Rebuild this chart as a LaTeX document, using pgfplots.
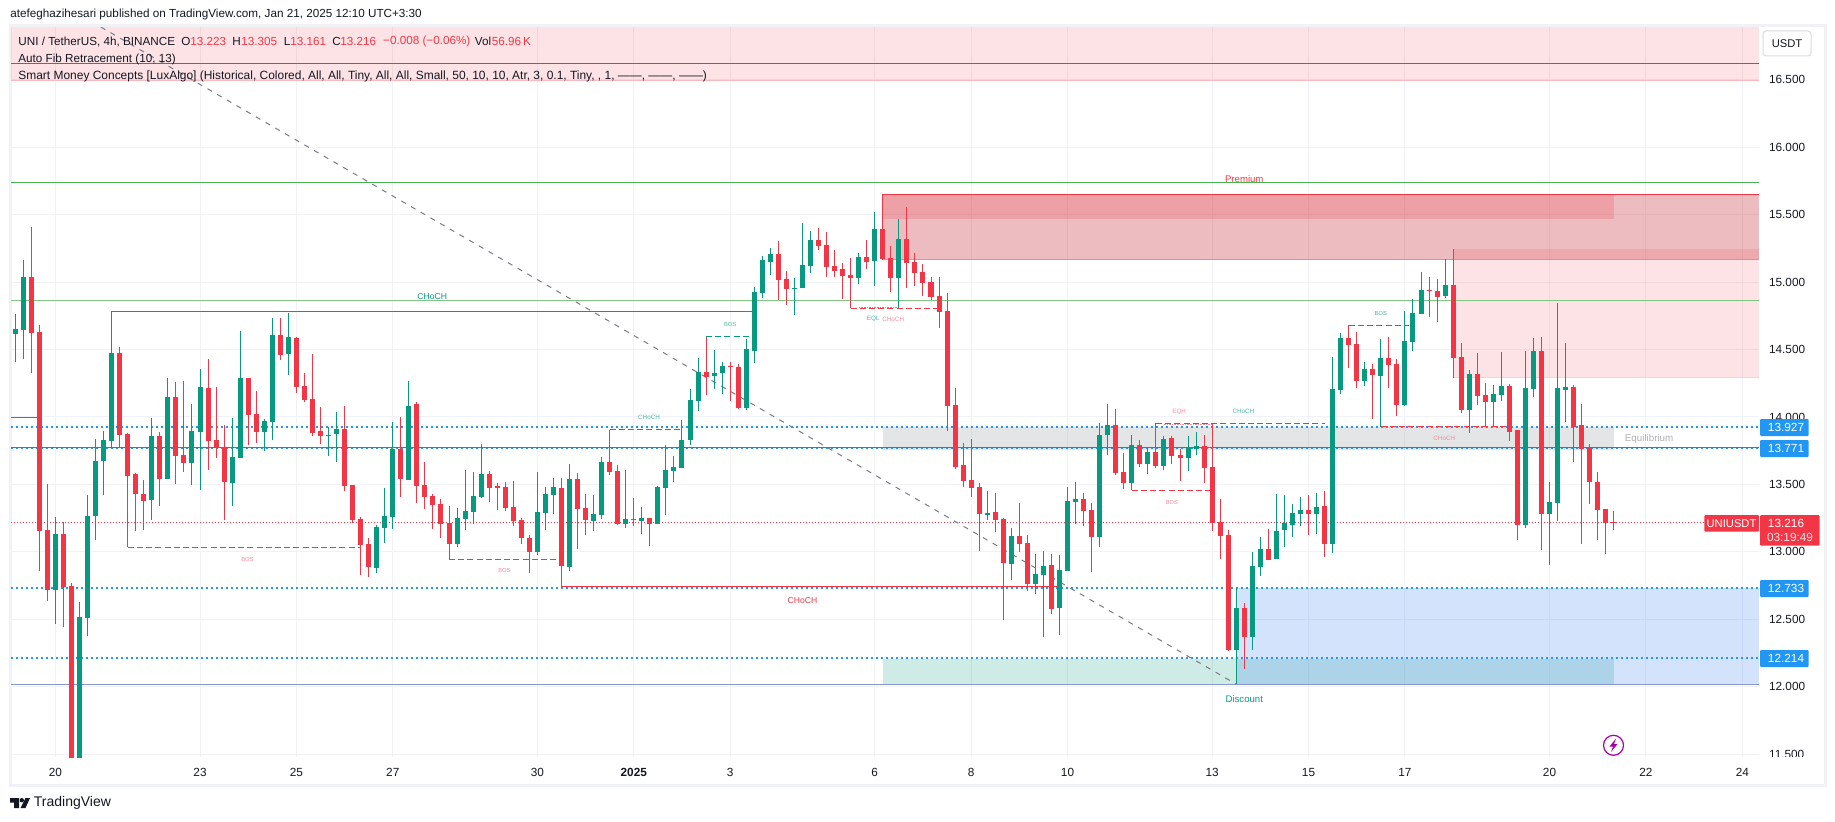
\documentclass[border=0pt]{standalone}
\usepackage{fontspec}
\setmainfont{Liberation Sans}
\usepackage{pgfplots}
\usepackage{pgfplotstable}
\pgfplotsset{compat=1.18}

\definecolor{tvred}{HTML}{F23645}
\definecolor{tvgreen}{HTML}{089981}
\definecolor{tvblue}{HTML}{2196F3}
\definecolor{tvgrid}{HTML}{F0F2F5}
\definecolor{tvtext}{HTML}{131722}
\definecolor{tvgray}{HTML}{787B86}
\definecolor{premium}{HTML}{C0202D}
\definecolor{zoneblue}{HTML}{1D6CF0}
\definecolor{softred}{HTML}{F8899A}
\definecolor{softgreen}{HTML}{4CB8A5}
\definecolor{lvlgreen}{HTML}{4CAF50}
\definecolor{lvllight}{HTML}{81C784}
\definecolor{lvlblue}{HTML}{8797C9}

% i = candle number, 6 a day, 0 is Dec 20
\pgfplotstableread{
i bot top lo hi
-5 14.616 14.653 14.411 14.764
-4 14.648 15.039 14.431 15.164
0 12.721 13.136 12.467 13.259
3 11.2 12.518 11.0 12.63
4 12.513 13.267 12.38 13.422
5 13.267 13.675 13.089 13.838
6 13.675 13.830 13.422 13.897
7 13.823 14.475 13.771 14.784
12 13.385 13.860 13.237 13.993
14 13.541 14.149 13.541 14.290
17 13.660 13.897 13.497 14.097
18 13.889 14.223 13.460 14.356
22 13.511 13.704 13.341 13.993
23 13.697 14.290 13.697 14.638
26 13.889 13.971 13.749 13.986
27 13.964 14.609 13.830 14.735
29 14.468 14.594 14.312 14.772
34 13.860 13.867 13.711 13.926
35 13.875 13.912 13.667 14.038
40 12.881 13.185 12.844 13.200
41 13.178 13.267 13.067 13.474
42 13.259 13.763 13.170 13.963
44 13.534 14.082 13.534 14.267
50 13.059 13.252 13.037 13.326
51 13.244 13.304 13.163 13.608
52 13.296 13.415 13.207 13.593
53 13.408 13.578 13.400 13.800
60 13.000 13.296 12.978 13.593
61 13.289 13.430 13.163 13.482
62 13.423 13.482 13.282 13.549
64 12.889 13.541 12.859 13.653
67 13.230 13.282 13.156 13.423
68 13.274 13.667 13.245 13.704
71 13.208 13.245 13.178 13.608
73 13.230 13.252 13.134 13.334
75 13.208 13.482 13.208 13.49
76 13.475 13.608 13.274 13.793
77 13.601 13.630 13.519 13.712
78 13.623 13.830 13.623 13.979
79 13.830 14.127 13.793 14.208
80 14.120 14.334 14.045 14.438
82 14.305 14.327 14.208 14.498
83 14.327 14.379 14.171 14.409
86 14.068 14.505 14.053 14.579
87 14.490 14.928 14.401 14.965
88 14.920 15.165 14.883 15.194
89 15.150 15.209 15.054 15.254
92 14.950 14.957 14.757 15.031
93 14.957 15.128 14.957 15.439
94 15.120 15.313 15.069 15.380
100 15.031 15.187 14.987 15.217
102 15.157 15.395 14.972 15.521
105 15.031 15.320 14.809 15.469
116 13.274 13.289 13.237 13.452
119 12.911 13.119 12.793 13.178
122 12.763 12.837 12.689 12.985
123 12.830 12.896 12.373 13.008
125 12.585 12.867 12.385 12.978
126 12.859 13.378 12.859 13.482
127 13.371 13.393 13.208 13.519
130 13.111 13.867 13.037 13.956
131 13.867 13.941 13.719 14.097
134 13.511 13.793 13.457 13.867
136 13.652 13.741 13.578 13.771
138 13.637 13.838 13.608 13.860
141 13.697 13.771 13.600 13.860
142 13.764 13.786 13.719 13.890
147 12.274 12.585 12.021 12.733
149 12.370 12.896 12.274 13.000
150 12.889 13.022 12.822 13.111
152 12.948 13.156 12.948 13.430
153 13.163 13.215 13.037 13.423
154 13.200 13.289 13.111 13.356
155 13.282 13.311 13.193 13.408
157 13.282 13.334 13.133 13.437
159 13.059 14.208 12.993 14.446
160 14.201 14.587 14.171 14.624
163 14.268 14.357 14.231 14.409
165 14.305 14.438 13.927 14.579
168 14.090 14.564 14.082 14.787
169 14.557 14.772 14.490 14.873
170 14.764 14.942 14.764 15.076
173 14.898 14.979 14.883 15.172
176 14.053 14.320 13.882 14.349
179 14.112 14.171 13.934 14.238
180 14.164 14.231 14.120 14.483
183 13.200 14.216 13.178 14.490
184 14.208 14.490 14.149 14.587
186 13.282 13.371 12.904 13.519
187 13.363 14.216 13.230 14.846
188 14.201 14.223 13.964 14.549
}\upcandles

\pgfplotstableread{
i bot top lo hi
-3 14.626 15.039 14.329 15.407
-2 13.158 14.631 12.862 14.680
-1 12.721 13.163 12.639 13.502
1 12.743 13.136 12.444 13.220
2 11.2 12.748 11.0 12.773
8 13.867 14.475 13.771 14.520
9 13.563 13.875 13.034 13.882
10 13.430 13.578 13.158 13.583
11 13.378 13.430 13.163 13.534
13 13.541 13.860 13.341 13.889
15 13.712 14.149 13.504 14.260
16 13.660 13.719 13.593 14.268
19 13.823 14.216 13.608 14.431
20 13.771 13.830 13.697 14.223
21 13.519 13.771 13.237 13.941
24 14.016 14.290 13.793 14.290
25 13.889 14.023 13.808 14.193
28 14.460 14.608 14.423 14.734
30 14.223 14.586 14.178 14.594
31 14.127 14.230 14.112 14.327
32 13.882 14.134 13.860 14.468
33 13.860 13.897 13.800 14.075
36 13.489 13.912 13.452 14.082
37 13.237 13.496 13.212 13.497
38 13.052 13.244 12.829 13.259
39 12.889 13.059 12.814 13.104
43 13.541 13.763 13.408 14.001
45 13.489 14.097 13.363 14.112
46 13.408 13.496 13.319 13.667
47 13.348 13.415 13.170 13.430
48 13.207 13.356 13.104 13.393
49 13.059 13.215 12.945 13.341
54 13.474 13.578 13.370 13.600
55 13.474 13.489 13.311 13.511
56 13.326 13.482 13.304 13.519
57 13.230 13.333 13.193 13.526
58 13.104 13.237 13.059 13.252
59 13.000 13.104 12.844 13.126
63 12.896 13.475 12.743 13.549
65 13.319 13.541 13.022 13.586
66 13.237 13.326 13.126 13.430
69 13.593 13.667 13.571 13.905
70 13.208 13.601 13.200 13.645
72 13.238 13.245 13.193 13.401
74 13.208 13.252 13.045 13.252
81 14.297 14.334 14.164 14.594
84 14.372 14.379 14.120 14.409
85 14.068 14.372 14.060 14.394
90 15.016 15.209 14.868 15.306
91 14.950 15.024 14.831 15.083
95 15.269 15.313 15.239 15.402
96 15.113 15.276 15.039 15.372
97 15.083 15.120 15.039 15.239
98 15.046 15.098 14.876 15.142
99 15.031 15.054 14.806 15.180
101 15.150 15.187 15.098 15.313
103 15.172 15.395 15.165 15.649
104 15.031 15.180 14.927 15.268
106 15.142 15.320 14.957 15.558
107 15.069 15.150 14.972 15.217
108 14.994 15.076 14.898 15.135
109 14.890 15.001 14.868 15.039
110 14.779 14.898 14.661 15.039
111 14.082 14.786 13.897 14.920
112 13.630 14.090 13.615 14.216
113 13.526 13.645 13.482 13.808
114 13.475 13.534 13.408 13.838
115 13.282 13.482 13.008 13.511
117 13.237 13.297 13.148 13.437
118 12.918 13.245 12.496 13.25
120 13.059 13.119 13.000 13.363
121 12.763 13.067 12.711 13.126
124 12.578 12.904 12.540 12.985
128 13.304 13.393 13.193 13.437
129 13.111 13.311 12.852 13.363
132 13.586 13.941 13.571 14.060
133 13.511 13.593 13.467 13.734
135 13.652 13.793 13.630 13.830
137 13.637 13.741 13.623 13.954
139 13.712 13.845 13.652 13.860
140 13.697 13.719 13.526 13.764
143 13.623 13.786 13.511 13.867
144 13.215 13.630 13.156 13.951
145 13.119 13.222 12.948 13.393
146 12.274 13.126 12.266 13.163
148 12.370 12.585 12.133 12.622
151 12.941 13.022 12.941 13.170
156 13.282 13.311 13.126 13.423
158 13.059 13.341 12.963 13.452
161 14.535 14.587 14.364 14.680
162 14.268 14.542 14.216 14.631
164 14.312 14.357 13.986 14.394
166 14.386 14.438 14.216 14.594
167 14.090 14.394 14.008 14.431
171 14.935 14.942 14.742 15.039
172 14.890 14.935 14.705 15.024
174 14.438 14.979 14.290 15.246
175 14.053 14.446 14.031 14.549
177 14.157 14.320 14.090 14.475
178 14.112 14.164 13.927 14.253
181 13.890 14.231 13.823 14.246
182 13.200 13.905 13.089 13.905
185 13.282 14.490 13.015 14.594
189 13.927 14.223 13.667 14.238
190 13.764 13.942 13.059 14.097
191 13.519 13.779 13.356 13.801
192 13.312 13.519 13.089 13.593
193 13.213 13.319 12.985 13.319
194 13.216 13.223 13.161 13.305
}\downcandles

% wick and body of one colour
\newcommand\candles[2]{%
  \addplot[forget plot, draw=none, mark=none,
    error bars/.cd, y dir=both, y explicit, error mark=none,
    error bar style={draw=#2, line width=0.5pt}]
    table[x=i, y=bot, y error plus expr=\thisrow{hi}-\thisrow{bot}, y error minus expr=\thisrow{bot}-\thisrow{lo}] {#1};
  \addplot[forget plot, draw=none, mark=none,
    error bars/.cd, y dir=plus, y explicit, error mark=none,
    error bar style={draw=#2, line width=2.5pt}]
    table[x=i, y=bot, y error plus expr=\thisrow{top}-\thisrow{bot}] {#1};
}
% x1 x2 y1 y2 colour opacity
\newcommand\zone[6]{\addplot[forget plot, draw=none, fill=#5, fill opacity=#6] coordinates {(#1,#3) (#2,#3) (#2,#4) (#1,#4)} -- cycle;}
% x1 x2 y style
\newcommand\lvl[4]{\addplot[forget plot, #4] coordinates {(#1,#3) (#2,#3)};}
\tikzset{
  solidl/.style={line width=0.5pt},
  dashl/.style={line width=0.5pt, dash pattern=on 3pt off 1.6pt},
  dotl/.style={tvblue, line width=1pt, dash pattern=on 1.1pt off 1.4pt},
  lab/.style={inner sep=0pt, font=\fontsize{#1}{#1}\selectfont},
  lab/.default=3.15,
  box/.style={text=white, inner sep=0pt, font=\fontsize{5.9}{6}\selectfont},
}
\def\xl{-5.53}
\def\xr{212.08}

\begin{document}
\begin{tikzpicture}
\useasboundingbox (0,0) rectangle (917.5pt,410.5pt);
\begin{scope}[x=0.5pt, y=-0.5pt, yshift=410.5pt]
  \draw[tvgrid, line width=1.5pt] (10,26) rectangle (1825,785);
\end{scope}

\begin{axis}[
  at={(5.5pt,32pt)}, anchor=south west, scale only axis,
  width=874pt, height=365pt,
  xmin=\xl, xmax=\xr, ymin=11.48, ymax=16.89,
  clip mode=individual,
  axis line style={draw=none},
  major tick length=0pt,
  xtick={0,18,30,42,60,72,84,102,114,126,144,156,168,186,198,210},
  xticklabels={20,23,25,27,30,\textbf{2025},3,6,8,10,13,15,17,20,22,24},
  ytick={11.5,12,...,16.5},
  yticklabels={11.500,12.000,12.500,13.000,13.500,14.000,14.500,15.000,15.500,16.000,16.500},
  yticklabel pos=right,
  xticklabel style={font=\fontsize{5.9}{6}\selectfont, text=tvtext, yshift=-2.2pt},
  yticklabel style={font=\fontsize{5.9}{6}\selectfont, text=tvtext, xshift=1.5pt},
  grid=major,
  grid style={tvgrid, line width=0.5pt},
]
% zones
\zone{\xl}{\xr}{16.494}{16.89}{tvred}{0.14}
\zone{103}{\xr}{15.170}{15.652}{premium}{0.3}
\zone{103}{194}{15.469}{15.652}{tvred}{0.2}
\zone{174}{\xr}{14.295}{15.246}{tvred}{0.14}
\zone{103}{194}{13.752}{13.927}{tvgray}{0.2}
\zone{103}{194}{12.019}{12.207}{tvgreen}{0.2}
\zone{147}{\xr}{12.019}{12.733}{zoneblue}{0.19}

% levels
\lvl{\xl}{\xr}{16.623}{tvgreen, solidl}
\lvl{\xl}{\xr}{16.494}{tvred!35, solidl}
\lvl{\xl}{\xr}{15.741}{lvlgreen, solidl}
\lvl{\xl}{\xr}{14.866}{lvllight, solidl}
\lvl{103}{\xr}{15.652}{tvred, solidl}
\lvl{103}{\xr}{15.170}{premium!50, solidl}
\lvl{174}{\xr}{14.295}{tvred!25, solidl}
\lvl{\xl}{\xr}{12.019}{lvlblue, solidl}
\lvl{\xl}{\xr}{13.927}{dotl}
\lvl{\xl}{\xr}{13.771}{dotl}
\lvl{\xl}{\xr}{12.733}{dotl}
\lvl{\xl}{\xr}{12.214}{dotl}
\lvl{\xl}{\xr}{13.776}{tvred, solidl}
\lvl{\xl}{\xr}{13.216}{tvred, line width=0.5pt, dash pattern=on 0.5pt off 1pt}
\lvl{\xl}{-2}{13.998}{tvred, solidl}

% fib trend line
\addplot[forget plot, tvgray, line width=0.5pt, dash pattern=on 2.6pt off 3pt] coordinates {(5.65,16.89) (147,12.02)};

% market structure
\lvl{7}{87}{14.784}{tvgreen, solidl}
\lvl{9}{38}{13.034}{tvred, dashl}
\lvl{49}{63}{12.945}{tvred, dashl}
\lvl{63}{125}{12.743}{tvred, solidl}
\lvl{69}{78}{13.905}{tvgreen, dashl}
\lvl{81}{87}{14.594}{tvgreen, dashl}
\lvl{99}{110}{14.806}{tvred, dashl}
\lvl{100}{105}{14.811}{softgreen, line width=0.5pt, dash pattern=on 0.8pt off 0.5pt}
\lvl{137}{158}{13.954}{tvgreen, dashl}
\lvl{138}{144}{13.946}{softred, line width=0.5pt, dash pattern=on 0.8pt off 0.5pt}
\lvl{134}{144}{13.457}{tvred, dashl}
\lvl{161}{168.5}{14.680}{tvgreen, dashl}
\lvl{165}{181}{13.932}{tvred, dashl}

\candles{\upcandles}{tvgreen}
\candles{\downcandles}{tvred}

% labels
\node[lab=4.3, text=tvgreen] at (axis cs:46.9,14.893) {CHoCH};
\node[lab=4.3, text=tvred] at (axis cs:93,12.642) {CHoCH};
\node[lab=2.9, text=softred] at (axis cs:23.9,12.946) {BOS};
\node[lab=2.9, text=softred] at (axis cs:55.9,12.864) {BOS};
\node[lab=2.9, text=softred] at (axis cs:139,13.368) {BOS};
\node[lab=2.9, text=softgreen] at (axis cs:84,14.688) {BOS};
\node[lab=2.9, text=softgreen] at (axis cs:165,14.769) {BOS};
\node[lab, text=softgreen] at (axis cs:73.9,13.996) {CHoCH};
\node[lab, text=softgreen] at (axis cs:147.9,14.04) {CHoCH};
\node[lab, text=softgreen] at (axis cs:101.8,14.729) {EQL};
\node[lab, text=softred] at (axis cs:104.3,14.724) {CHoCH};
\node[lab, text=softred] at (axis cs:139.9,14.036) {EQH};
\node[lab, text=softred] at (axis cs:172.9,13.84) {CHoCH};
\node[lab=4.8, text=tvred] at (axis cs:148,15.765) {Premium};
\node[lab=4.8, text=tvgreen] at (axis cs:148,11.91) {Discount};
\node[lab=4.9, text=tvgray!60] at (axis cs:198.4,13.836) {Equilibrium};
\end{axis}

% everything round the pane, in reference pixels
\begin{scope}[x=0.5pt, y=-0.5pt, yshift=410.5pt]
  % header and legend
  \tikzset{hd/.style={anchor=west, inner sep=0pt, text=tvtext, font=\fontsize{5.85}{7}\selectfont},
           rv/.style={anchor=west, inner sep=0pt, text=tvred, font=\fontsize{5.85}{7}\selectfont}}
  \node[hd] at (10,14.7) {atefeghazihesari published on TradingView.com, Jan 21, 2025 12:10 UTC+3:30};
  \node[hd] at (18,41.7) {UNI / TetherUS, 4h, BINANCE};
  \node[hd] at (181,41.7) {O}; \node[rv] at (190,41.7) {13.223};
  \node[hd] at (232,41.7) {H}; \node[rv] at (241,41.7) {13.305};
  \node[hd] at (283.5,41.7) {L}; \node[rv] at (290,41.7) {13.161};
  \node[hd] at (332,41.7) {C}; \node[rv] at (340,41.7) {13.216};
  \node[rv] at (382.8,41.7) {−0.008 (−0.06\%)};
  \node[hd] at (474.5,41.7) {Vol}; \node[rv] at (491.5,41.7) {56.96\,K};
  \node[hd] at (18,59) {Auto Fib Retracement (10, 13)};
  \node[hd, font=\fontsize{5.98}{7}\selectfont] at (18,76) {Smart Money Concepts [LuxAlgo] (Historical, Colored, All, All, Tiny, All, All, Small, 50, 10, 10, Atr, 3, 0.1, Tiny, , 1, ——, ——, ——)};

  % USDT button
  \draw[tvgrid!80!gray, line width=0.5pt, fill=white, rounded corners=1.5pt] (1763,31) rectangle (1811,56);
  \node[inner sep=0pt, text=tvtext, font=\fontsize{5.6}{6}\selectfont] at (1787,44) {USDT};

  % hide the lower half of the last price label
  \fill[white] (1760,757) rectangle (1822,764);

  % price labels
  \fill[tvblue, rounded corners=0.5pt] (1760,419) rectangle (1808.7,436);
  \fill[tvblue, rounded corners=0.5pt] (1760,440) rectangle (1808.7,457);
  \fill[tvblue, rounded corners=0.5pt] (1760,580) rectangle (1808.7,597);
  \fill[tvblue, rounded corners=0.5pt] (1760,650) rectangle (1808.7,667);
  \node[box] at (1786,427.6) {13.927};
  \node[box] at (1786,448.5) {13.771};
  \node[box] at (1786,588.5) {12.733};
  \node[box] at (1786,658.5) {12.214};
  \fill[tvred, rounded corners=0.5pt] (1704.3,515) rectangle (1758.9,531.7);
  \fill[tvred, rounded corners=0.5pt] (1760,515) rectangle (1819.7,545.7);
  \node[box, font=\fontsize{5.6}{6}\selectfont] at (1731.5,523.3) {UNIUSDT};
  \node[box] at (1786,523.3) {13.216};
  \node[box, text=white!85!tvred] at (1790,537.5) {03:19:49};

  % lightning mark
  \draw[violet!70!magenta, line width=0.6pt] (1613.5,745.3) circle (10);
  \fill[violet!70!magenta] (1616,738.5) -- (1609.5,746.5) -- (1613,746.5) -- (1611,752) -- (1617.5,744) -- (1614,744) -- cycle;

  % logo
  \fill[tvtext] (10,798) -- (19,798) -- (19,808) -- (14,808) -- (14,802.5) -- (10,802.5) -- cycle;
  \fill[tvtext] (21.8,800.2) circle (2.2);
  \fill[tvtext] (25.5,798) -- (30,798) -- (25.5,808) -- (20.5,808) -- cycle;
  \node[anchor=west, inner sep=0pt, text=tvtext, font=\fontsize{7}{8}\selectfont] at (33.5,803) {TradingView};
\end{scope}
\end{tikzpicture}
\end{document}
